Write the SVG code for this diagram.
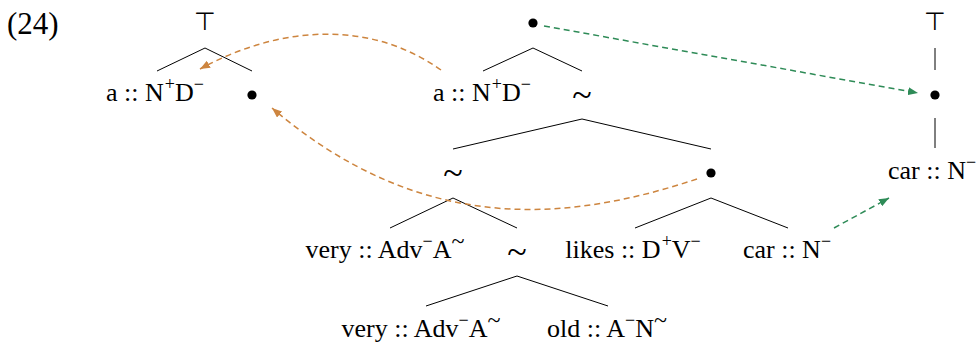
<svg xmlns="http://www.w3.org/2000/svg" width="978" height="343" viewBox="0 0 978 343">
<style>
text{font-family:"Liberation Serif","DejaVu Serif",serif;font-size:26px;fill:#000}
.c{text-anchor:middle}
.sup{font-size:18px}
.sim{font-size:36px}
.simsup{font-size:24px}
.top{font-family:"DejaVu Sans",sans-serif;font-size:25px}
.e{stroke:#000;stroke-width:1;fill:none}
.bul{fill:#000}
.or{stroke:#cd853f;stroke-width:1.5;fill:none;stroke-dasharray:6 4}
.gr{stroke:#2e8b57;stroke-width:1.5;fill:none;stroke-dasharray:6 4}
</style>
<defs>
<marker id="ao" markerUnits="userSpaceOnUse" markerWidth="11" markerHeight="8" refX="10" refY="4" orient="auto"><path d="M0,0 L10,4 L0,8 z" fill="#cd853f"/></marker>
<marker id="ag" markerUnits="userSpaceOnUse" markerWidth="11" markerHeight="8" refX="10" refY="4" orient="auto"><path d="M0,0 L10,4 L0,8 z" fill="#2e8b57"/></marker>
</defs>
<text id="ex" x="7" y="34" style="font-size:31px">(24)</text>
<g id="tree1">
<g id="t1-top"><text class="top c" x="205" y="30">⊤</text></g>
<g id="t1-a"><text class="c" x="155" y="101">a :: N<tspan class="sup" dx="1" dy="-11">+</tspan><tspan dy="11">D</tspan><tspan class="sup" dy="-11">−</tspan></text></g>
<g id="t1-b"><circle class="bul" cx="252" cy="95" r="4.6"/></g>
<path class="e" d="M205,48 L157,71 M205,48 L252,71"/>
</g>
<g id="tree2">
<g id="t2-root"><circle class="bul" cx="533" cy="23" r="4.6"/></g>
<g id="t2-a"><text class="c" x="482" y="101">a :: N<tspan class="sup" dx="1" dy="-11">+</tspan><tspan dy="11">D</tspan><tspan class="sup" dy="-11">−</tspan></text></g>
<g id="t2-sim1"><text class="c sim" x="582" y="107">~</text></g>
<g id="t2-sim2"><text class="c sim" x="453" y="185">~</text></g>
<g id="t2-b"><circle class="bul" cx="711" cy="173" r="4.6"/></g>
<g id="t2-very1"><text class="c" x="385" y="258">very :: Adv<tspan class="sup" dy="-11">−</tspan><tspan dy="11">A</tspan><tspan class="simsup" dy="-9">~</tspan></text></g>
<g id="t2-sim3"><text class="c sim" x="517" y="264">~</text></g>
<g id="t2-likes"><text class="c" x="633" y="258">likes :: D<tspan class="sup" dx="1" dy="-11">+</tspan><tspan dy="11">V</tspan><tspan class="sup" dy="-11">−</tspan></text></g>
<g id="t2-car"><text class="c" x="787" y="258">car :: N<tspan class="sup" dy="-11">−</tspan></text></g>
<g id="t2-very2"><text class="c" x="421" y="337">very :: Adv<tspan class="sup" dy="-11">−</tspan><tspan dy="11">A</tspan><tspan class="simsup" dy="-9">~</tspan></text></g>
<g id="t2-old"><text class="c" x="607" y="337">old :: A<tspan class="sup" dy="-11">−</tspan><tspan dy="11">N</tspan><tspan class="simsup" dy="-9">~</tspan></text></g>
<path class="e" d="M533,48 L483,71 M533,48 L582,71 M582,119 L453,149 M582,119 L711,149 M453,198 L390,228 M453,198 L517,228 M711,198 L635,228 M711,198 L788,228 M517,276 L426,306 M517,276 L608,306"/>
</g>
<g id="tree3">
<g id="t3-top"><text class="top c" x="935" y="30">⊤</text></g>
<g id="t3-b"><circle class="bul" cx="935" cy="95" r="4.6"/></g>
<g id="t3-car"><text x="888" y="179">car :: N<tspan class="sup" dy="-11">−</tspan></text></g>
<path class="e" d="M935,48 L935,70 M935,118 L935,148"/>
</g>
<g id="connectors">
<path class="or" d="M441,70 C366,17 275,28 200,69" marker-end="url(#ao)"/>
<path class="or" d="M697,179 C567,222 422,236 272,108" marker-end="url(#ao)"/>
<path class="gr" d="M544,26 L918,93" marker-end="url(#ag)"/>
<path class="gr" d="M834,228 L889,198" marker-end="url(#ag)"/>
</g>
</svg>
